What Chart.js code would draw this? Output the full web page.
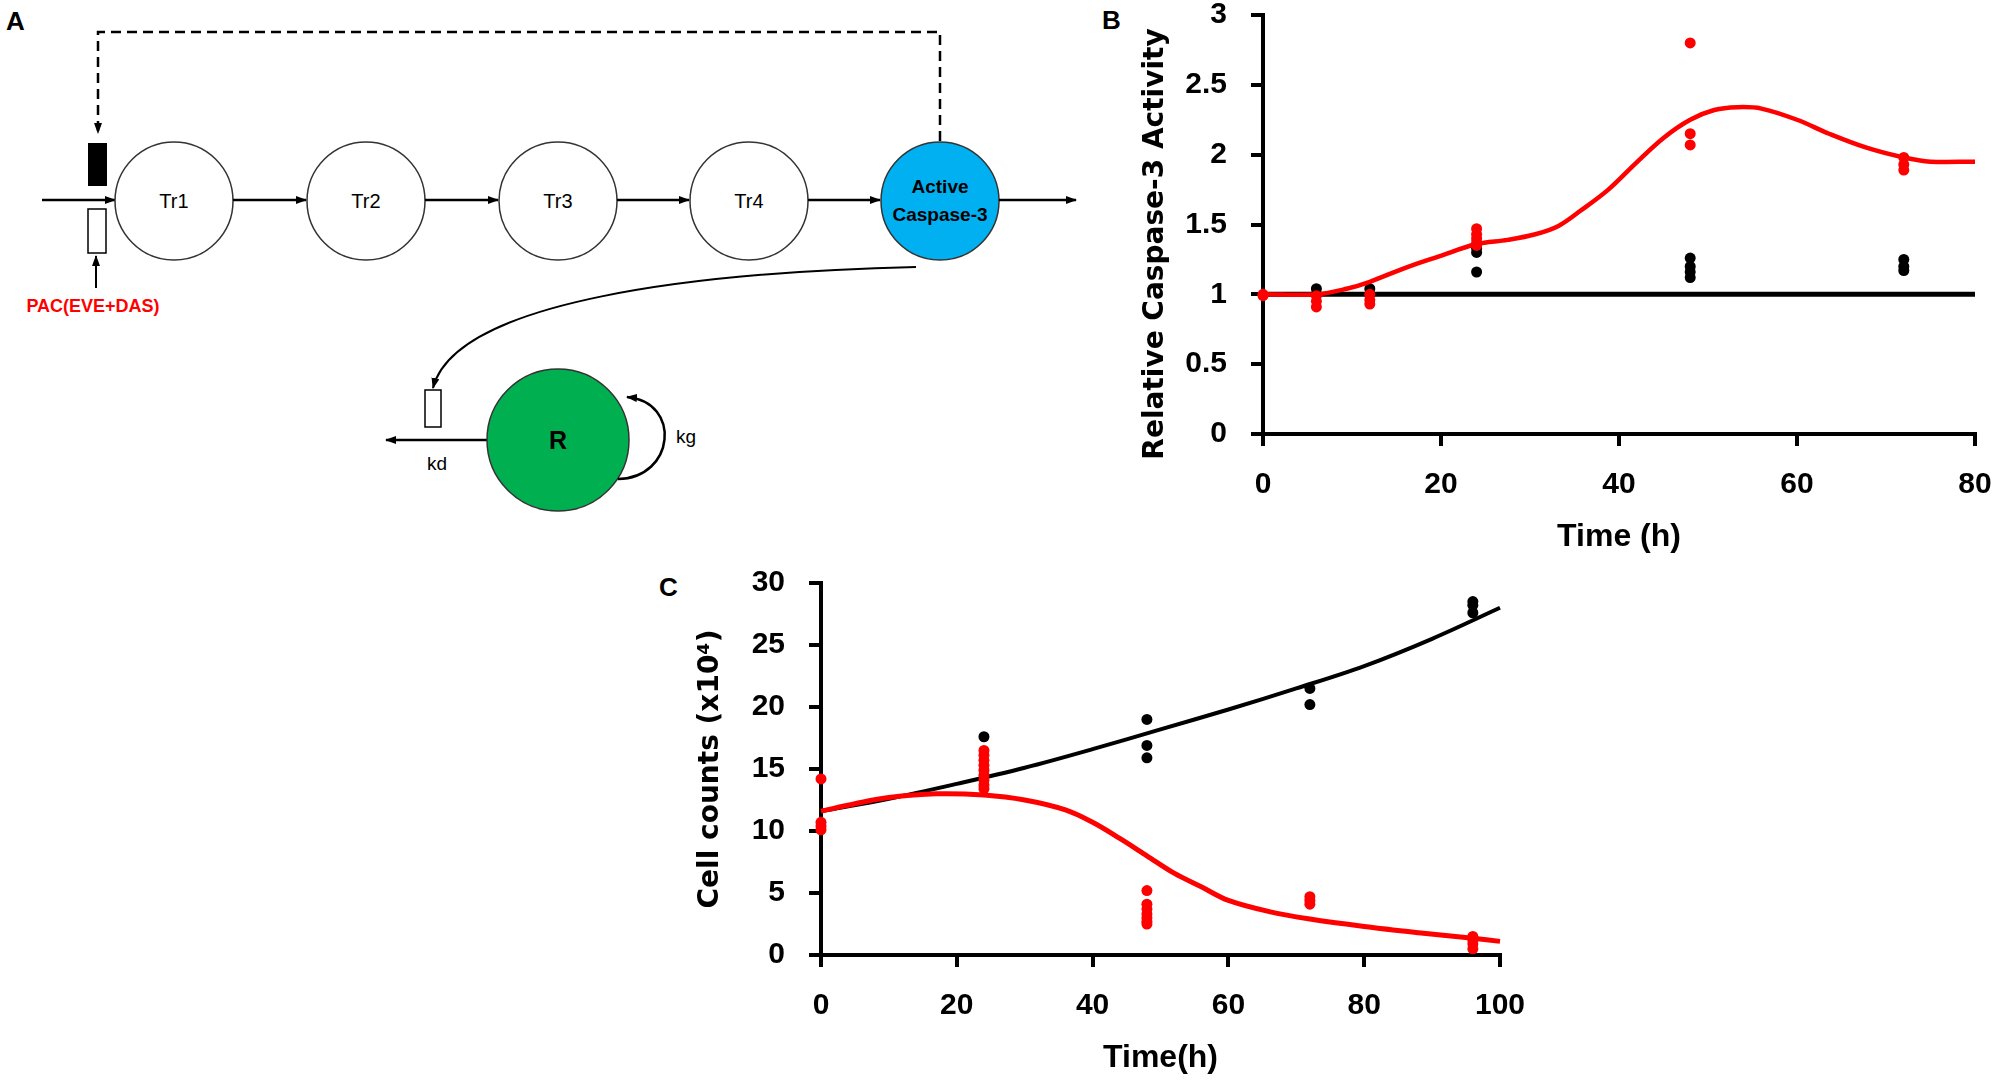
<!DOCTYPE html>
<html>
<head>
<meta charset="utf-8">
<script src="https://cdn.jsdelivr.net/npm/chart.js@4.4.1/dist/chart.umd.min.js"></script>
<style>
  body { margin: 0; width: 2001px; height: 1081px; overflow: hidden; background: #fff; position: relative; font-family: "Liberation Sans", Arial, sans-serif; }
  #diagram { position: absolute; left: 0; top: 0; }
  #boxB { position: absolute; left: 1100px; top: 0; }
  #boxC { position: absolute; left: 650px; top: 560px; }
  .panel { position: absolute; font-weight: bold; font-size: 26px; color: #000; }
</style>
</head>
<body>

<!-- Panel A: model scheme -->
<svg id="diagram" width="1100" height="560" viewBox="0 0 1100 560" font-family="Liberation Sans, Arial, sans-serif">
  <defs>
    <marker id="ah" markerWidth="11" markerHeight="8" refX="10" refY="4" orient="auto" markerUnits="userSpaceOnUse">
      <path d="M0,0 L11,4 L0,8 Z" fill="#000"/>
    </marker>
  </defs>
  <text x="6" y="30" font-size="26" font-weight="bold">A</text>

  <path d="M940,141 V32 H98 V133" fill="none" stroke="#000" stroke-width="2.5" stroke-dasharray="10,6" marker-end="url(#ah)"/>
  <rect x="88" y="143" width="19" height="43" fill="#000"/>
  <rect x="88" y="209" width="18" height="44" fill="#fff" stroke="#000" stroke-width="1.5"/>
  <line x1="96" y1="288" x2="96" y2="256" stroke="#000" stroke-width="2" marker-end="url(#ah)"/>
  <text x="93" y="312" font-size="18" font-weight="bold" fill="#ff0000" text-anchor="middle">PAC(EVE+DAS)</text>

  <line x1="42" y1="200" x2="115" y2="200" stroke="#000" stroke-width="2.5" marker-end="url(#ah)"/>
  <circle cx="174" cy="201" r="59" fill="#fff" stroke="#333" stroke-width="1.5"/>
  <circle cx="366" cy="201" r="59" fill="#fff" stroke="#333" stroke-width="1.5"/>
  <circle cx="558" cy="201" r="59" fill="#fff" stroke="#333" stroke-width="1.5"/>
  <circle cx="749" cy="201" r="59" fill="#fff" stroke="#333" stroke-width="1.5"/>
  <circle cx="940" cy="201" r="59" fill="#00b0f0" stroke="#333" stroke-width="1.5"/>
  <line x1="233" y1="200" x2="306" y2="200" stroke="#000" stroke-width="2.5" marker-end="url(#ah)"/>
  <line x1="425" y1="200" x2="498" y2="200" stroke="#000" stroke-width="2.5" marker-end="url(#ah)"/>
  <line x1="617" y1="200" x2="689" y2="200" stroke="#000" stroke-width="2.5" marker-end="url(#ah)"/>
  <line x1="808" y1="200" x2="880" y2="200" stroke="#000" stroke-width="2.5" marker-end="url(#ah)"/>
  <line x1="999" y1="200" x2="1076" y2="200" stroke="#000" stroke-width="2.5" marker-end="url(#ah)"/>
  <text x="174" y="208" font-size="20" text-anchor="middle">Tr1</text>
  <text x="366" y="208" font-size="20" text-anchor="middle">Tr2</text>
  <text x="558" y="208" font-size="20" text-anchor="middle">Tr3</text>
  <text x="749" y="208" font-size="20" text-anchor="middle">Tr4</text>
  <text x="940" y="193" font-size="19" font-weight="bold" text-anchor="middle">Active</text>
  <text x="940" y="221" font-size="19" font-weight="bold" text-anchor="middle">Caspase-3</text>

  <path d="M916,267 C700,272 455,300 433,388" fill="none" stroke="#000" stroke-width="2" marker-end="url(#ah)"/>
  <rect x="425" y="390" width="16" height="37" fill="#fff" stroke="#000" stroke-width="1.5"/>
  <line x1="487" y1="440" x2="386" y2="440" stroke="#000" stroke-width="2.5" marker-end="url(#ah)"/>
  <circle cx="558" cy="440" r="71" fill="#00b050" stroke="#333" stroke-width="1.5"/>
  <text x="558" y="449" font-size="25" font-weight="bold" text-anchor="middle">R</text>
  <text x="437" y="470" font-size="19" text-anchor="middle">kd</text>
  <text x="686" y="443" font-size="19" text-anchor="middle">kg</text>
  <path d="M618,479 C675,478 682,402 627,397" fill="none" stroke="#000" stroke-width="2.5" marker-end="url(#ah)"/>
</svg>

<div class="panel" style="left:1102px; top:5px;">B</div>
<div class="panel" style="left:659px; top:572px;">C</div>

<div id="boxB"><canvas id="chartB" width="900" height="560"></canvas></div>
<div id="boxC"><canvas id="chartC" width="900" height="521"></canvas></div>

<script>
// ================= DATA : PANEL B (caspase-3) =================

const fitTimeB = [0, 6, 9.4, 12, 16, 19.7, 24, 27.5, 30.6, 33.2, 35.7, 38.8, 41.9, 45, 48, 50.7, 53.3, 56, 60, 63.6, 67.8, 72, 75, 80];
const fitValB  = [1.0, 1.0, 1.04, 1.09, 1.19, 1.27, 1.36, 1.39, 1.43, 1.49, 1.60, 1.75, 1.94, 2.12, 2.25, 2.32, 2.34, 2.33, 2.25, 2.15, 2.05, 1.98, 1.95, 1.95];

const baseTimeB = [0, 80];
const baseValB  = [1, 1];

const redTimeB = [0, 0, 6, 6, 6, 12, 12, 12, 24, 24, 24, 24, 24, 48, 48, 48, 72, 72, 72];
const redValB  = [1.0, 0.99, 0.99, 0.95, 0.91, 1.0, 0.96, 0.93, 1.47, 1.43, 1.40, 1.37, 1.35, 2.80, 2.15, 2.07, 1.98, 1.93, 1.89];

const blackTimeB = [6, 6, 12, 12, 24, 24, 24, 48, 48, 48, 48, 72, 72, 72];
const blackValB  = [1.04, 1.0, 1.04, 1.0, 1.33, 1.30, 1.16, 1.26, 1.20, 1.16, 1.12, 1.25, 1.20, 1.17];

// ================= DATA : PANEL C (cell counts) =================

const ctrlTimeC = [0, 10, 20, 30, 40, 50, 60, 70, 80, 90, 100];
const ctrlValC  = [11.6, 12.6, 13.8, 15.1, 16.6, 18.2, 19.8, 21.5, 23.3, 25.5, 28.0];

const treatTimeC = [0, 5, 10, 17, 24, 30, 36, 40, 44, 48, 52, 56, 60, 66, 72, 80, 88, 96, 100];
const treatValC  = [11.6, 12.2, 12.7, 13.0, 12.9, 12.5, 11.7, 10.7, 9.4, 8.0, 6.6, 5.5, 4.4, 3.5, 2.9, 2.3, 1.8, 1.35, 1.1];

const redTimeC = [0, 0, 0, 0, 24, 24, 24, 24, 24, 24, 24, 24, 24, 48, 48, 48, 48, 48, 48, 48, 72, 72, 72, 96, 96, 96, 96];
const redValC  = [14.2, 10.7, 10.4, 10.1, 16.5, 16.1, 15.7, 15.3, 14.9, 14.5, 14.1, 13.7, 13.4, 5.2, 4.1, 3.7, 3.3, 3.0, 2.7, 2.5, 4.7, 4.4, 4.1, 1.5, 1.2, 0.9, 0.5];

const blackTimeC = [24, 48, 48, 48, 72, 72, 96, 96, 96];
const blackValC  = [17.6, 19.0, 16.9, 15.9, 21.5, 20.2, 28.5, 28.2, 27.6];

// ================= HELPERS =================

const RED = "#ff0000";
const BLACK = "#000000";
const TICK_FONT = "'Liberation Sans', Arial, sans-serif";
const YTITLE_FONT = "'DejaVu Sans', Verdana, sans-serif";

function pairs(xs, ys) {
    return xs.map((x, i) => ({ x: x, y: ys[i] }));
}

function curve(xs, ys, color, width) {
    return {
        data: pairs(xs, ys),
        showLine: true,
        borderColor: color,
        borderWidth: width,
        pointRadius: 0,
        tension: 0.35,
        clip: false
    };
}

function dots(xs, ys, color) {
    return {
        data: pairs(xs, ys),
        showLine: false,
        pointRadius: 5.5,
        pointBackgroundColor: color,
        pointBorderColor: color,
        pointBorderWidth: 0,
        clip: false
    };
}

function axis(min, max, step, opts) {
    return {
        type: "linear",
        min: min,
        max: max,
        ticks: {
            stepSize: step,
            color: BLACK,
            padding: opts.tickPad,
            font: { family: TICK_FONT, size: 30, weight: "bold", lineHeight: 1 },
            callback: v => String(v)
        },
        grid: {
            drawOnChartArea: false,
            drawTicks: true,
            tickLength: 12,
            color: BLACK,
            lineWidth: 4
        },
        border: { color: BLACK, width: 4 },
        title: {
            display: true,
            text: opts.title,
            color: BLACK,
            font: opts.titleFont,
            padding: opts.titlePad
        },
        // fixed box sizes, and no extra label padding, so the plot area lands where the figure has it
        afterFit: s => {
            opts.fit(s);
            s.paddingTop = 0;
            s.paddingBottom = 0;
            s.paddingLeft = 0;
            s.paddingRight = 0;
        }
    };
}

const baseOptions = {
    responsive: false,
    animation: false,
    plugins: { legend: { display: false }, tooltip: { enabled: false } }
};

// ================= PANEL B =================

new Chart(document.getElementById("chartB"), {
    type: "scatter",
    data: {
        datasets: [
            curve(fitTimeB, fitValB, RED, 4.5),
            dots(redTimeB, redValB, RED),
            dots(blackTimeB, blackValB, BLACK),
            curve(baseTimeB, baseValB, BLACK, 5)
        ]
    },
    options: Object.assign({}, baseOptions, {
        layout: { padding: { left: 0, top: 15, right: 25, bottom: 0 } },
        scales: {
            x: axis(0, 80, 20, {
                tickPad: 24,
                title: "Time (h)",
                titleFont: { family: TICK_FONT, size: 32, weight: "bold" },
                titlePad: { top: 0, bottom: 4 },
                fit: s => { s.height = 126; }
            }),
            y: axis(0, 3, 0.5, {
                tickPad: 24,
                title: "Relative Caspase-3 Activity    ",
                titleFont: { family: YTITLE_FONT, size: 28, weight: "bold" },
                titlePad: { top: 39, bottom: 0 },
                fit: s => { s.width = 163; }
            })
        }
    })
});

// ================= PANEL C =================

new Chart(document.getElementById("chartC"), {
    type: "scatter",
    data: {
        datasets: [
            curve(treatTimeC, treatValC, RED, 5),
            dots(redTimeC, redValC, RED),
            dots(blackTimeC, blackValC, BLACK),
            curve(ctrlTimeC, ctrlValC, BLACK, 4)
        ]
    },
    options: Object.assign({}, baseOptions, {
        layout: { padding: { left: 0, top: 23, right: 50, bottom: 0 } },
        scales: {
            x: axis(0, 100, 20, {
                tickPad: 24,
                title: "Time(h)",
                titleFont: { family: TICK_FONT, size: 32, weight: "bold" },
                titlePad: { top: 0, bottom: 4 },
                fit: s => { s.height = 126; }
            }),
            y: axis(0, 30, 5, {
                tickPad: 24,
                title: "Cell counts (x10\u2074)",
                titleFont: { family: YTITLE_FONT, size: 28, weight: "bold" },
                titlePad: { top: 44, bottom: 0 },
                fit: s => { s.width = 171; }
            })
        }
    })
});
</script>
</body>
</html>
